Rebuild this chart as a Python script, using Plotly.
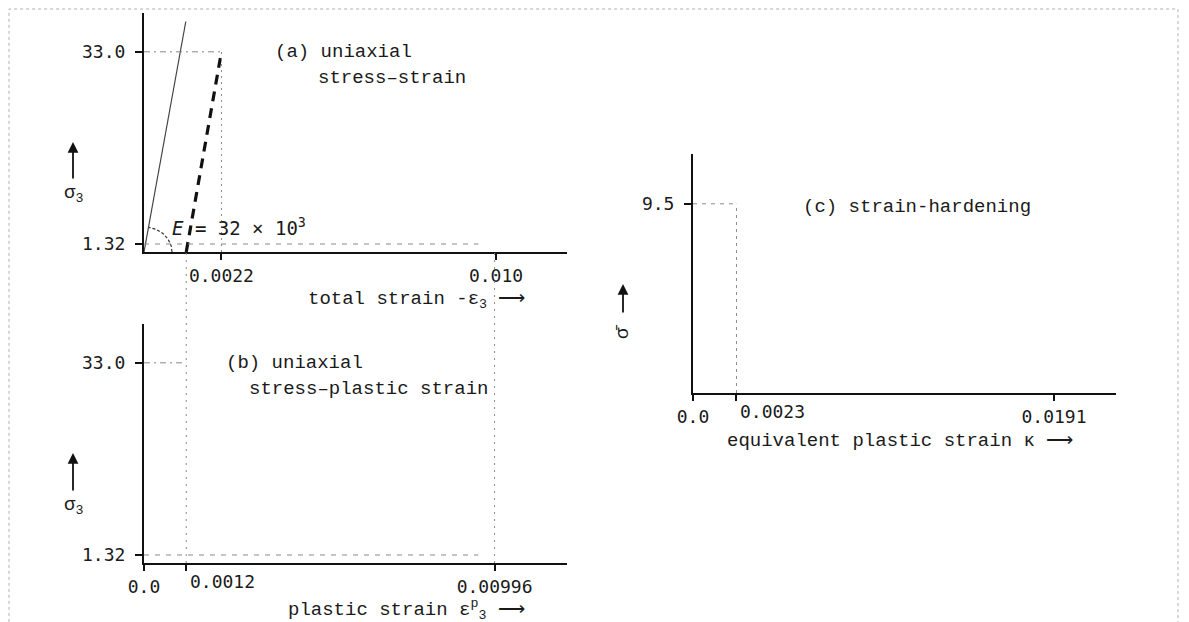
import plotly.graph_objects as go
import numpy as np

# ---------------- data ----------------
E_modulus = 32e3            # E = 32 x 10^3
sigma_yield = 33.0          # uniaxial yield stress
sigma_low = 1.32            # lower stress level
sigma_elastic_top = 38.0    # end of the elastic line
eps_total_yield = 0.0022    # total strain at yield
eps_total_end = 0.010       # total strain end
eps_p_yield = 0.0012        # plastic strain at yield
eps_p_end = 0.00996         # plastic strain end
kappa_yield = 0.0023        # equivalent plastic strain
kappa_end = 0.0191
sigma_bar_yield = 9.5

a_xtick_vals = [eps_total_yield, eps_total_end]
a_xtick_text = ["0.0022", "0.010"]
a_ytick_vals = [sigma_low, sigma_yield]
a_ytick_text = ["1.32", "33.0"]
b_xtick_vals = [0.0, eps_p_yield, eps_p_end]
b_xtick_text = ["0.0", "", "0.00996"]
b_ytick_vals = [sigma_low, sigma_yield]
b_ytick_text = ["1.32", "33.0"]
c_xtick_vals = [0.0, kappa_yield, kappa_end]
c_xtick_text = ["0.0", "", "0.0191"]
c_ytick_vals = [sigma_bar_yield]
c_ytick_text = ["9.5"]

# ---------------- layout geometry ----------------
W, H = 1189, 622
OFF = 8  # page body margin in the browser


def px(x, y):
    return (x - OFF) / W, 1 - (y - OFF) / H


# panel boxes in screen pixels: (left, right, top, bottom)
A_BOX = (144, 567, 13, 252)
B_BOX = (144, 567, 324, 563)
C_BOX = (693, 1116, 154, 393)
A_XMAX, A_YMAX = 0.012017, 39.4
B_XMAX, B_YMAX = 0.012017, 39.4
C_XMAX, C_YMAX = 0.02238, 12.0


def dom(box):
    l, r, t, b = box
    x0, y1 = px(l, t)
    x1, y0 = px(r, b)
    return [x0, x1], [y0, y1]


NUM_FONT = dict(family="DejaVu Sans Mono", size=18, color="#1a1a1a")
TXT_FONT = dict(family="Liberation Mono", size=19, color="#1a1a1a")
GRAY = "#8a8a8a"

fig = go.Figure()

# ---- panel (a) ----
fig.add_trace(go.Scatter(x=[0, sigma_elastic_top / E_modulus], y=[0, sigma_elastic_top],
                         mode="lines", line=dict(color="#444", width=1.2),
                         xaxis="x", yaxis="y", showlegend=False))
fig.add_trace(go.Scatter(x=[eps_p_yield, eps_total_yield], y=[0, sigma_yield],
                         mode="lines", line=dict(color="#111", width=3.2, dash="10px,7px"),
                         xaxis="x", yaxis="y", showlegend=False))
fig.add_trace(go.Scatter(x=[0, eps_total_yield], y=[sigma_yield, sigma_yield],
                         mode="lines", line=dict(color=GRAY, width=1, dash="6px,4px,2px,4px"),
                         xaxis="x", yaxis="y", showlegend=False))
fig.add_trace(go.Scatter(x=[eps_total_yield, eps_total_yield], y=[0, sigma_yield],
                         mode="lines", line=dict(color=GRAY, width=1, dash="2px,4px"),
                         xaxis="x", yaxis="y", showlegend=False))
fig.add_trace(go.Scatter(x=[0, 0.0095], y=[sigma_low, sigma_low],
                         mode="lines", line=dict(color=GRAY, width=1, dash="5px,6px"),
                         xaxis="x", yaxis="y", showlegend=False))
# angle arc at the origin (radius in pixels)
a_xs = (A_BOX[1] - A_BOX[0]) / A_XMAX
a_ys = (A_BOX[3] - A_BOX[2]) / A_YMAX
t = np.linspace(0, np.arctan2(sigma_elastic_top * a_ys, sigma_elastic_top / E_modulus * a_xs), 30)
fig.add_trace(go.Scatter(x=28 * np.cos(t) / a_xs, y=25 * np.sin(t) / a_ys,
                         mode="lines", line=dict(color="#333", width=1.2, dash="3px,2px"),
                         xaxis="x", yaxis="y", showlegend=False))

# ---- panel (b) ----
fig.add_trace(go.Scatter(x=[0, eps_p_yield], y=[sigma_yield, sigma_yield],
                         mode="lines", line=dict(color=GRAY, width=1, dash="6px,4px,2px,4px"),
                         xaxis="x2", yaxis="y2", showlegend=False))
fig.add_trace(go.Scatter(x=[0, 0.0095], y=[sigma_low, sigma_low],
                         mode="lines", line=dict(color=GRAY, width=1, dash="5px,6px"),
                         xaxis="x2", yaxis="y2", showlegend=False))

# ---- panel (c) ----
fig.add_trace(go.Scatter(x=[0, kappa_yield], y=[sigma_bar_yield, sigma_bar_yield],
                         mode="lines", line=dict(color=GRAY, width=1, dash="4px,5px"),
                         xaxis="x3", yaxis="y3", showlegend=False))
fig.add_trace(go.Scatter(x=[kappa_yield, kappa_yield], y=[0, sigma_bar_yield],
                         mode="lines", line=dict(color=GRAY, width=1, dash="3px,4px"),
                         xaxis="x3", yaxis="y3", showlegend=False))


def xaxis(box, xmax, vals, text):
    d, _ = dom(box)
    return dict(domain=d, range=[0, xmax], showline=True, linecolor="#111", linewidth=2,
                showgrid=False, zeroline=False, ticks="outside", ticklen=6, tickwidth=1.5,
                tickcolor="#111", tickvals=vals, ticktext=text, tickfont=NUM_FONT,
                automargin=False, fixedrange=True)


def yaxis(box, ymax, vals, text, anchor):
    _, d = dom(box)
    return dict(domain=d, range=[0, ymax], showline=True, linecolor="#111", linewidth=2,
                showgrid=False, zeroline=False, ticks="outside", ticklen=7, tickwidth=1.5,
                tickcolor="#111", tickvals=vals, ticktext=text, tickfont=NUM_FONT,
                ticklabelstandoff=6, anchor=anchor, automargin=False, fixedrange=True)


annotations = []


def txt(x, y, s, xanchor="left", font=TXT_FONT, angle=0):
    X, Y = px(x, y)
    annotations.append(dict(x=X, y=Y, xref="paper", yref="paper", text=s, showarrow=False,
                            xanchor=xanchor, yanchor="middle", font=font, textangle=angle))


def up_arrow(x, y_tip, length):
    X, Y = px(x, y_tip)
    annotations.append(dict(x=X, y=Y, xref="paper", yref="paper", text="", showarrow=True,
                            ax=0, ay=length, axref="pixel", ayref="pixel", arrowhead=2,
                            arrowsize=1.2, arrowwidth=1.8, arrowcolor="#111"))


# panel texts
txt(273, 52, "(a) uniaxial")
txt(316, 78, "stress\u2013strain")
txt(170, 227, "<i>E</i> = 32 \u00d7 10<sup>3</sup>",
    font=dict(family="DejaVu Sans Mono", size=19, color="#1a1a1a"))
txt(527, 300, "total strain -\u03b5<sub>3</sub> \u27f6", xanchor="right")
up_arrow(73, 142, 38)
txt(73, 194, "\u03c3<sub>3</sub>", xanchor="center")

txt(224, 363, "(b) uniaxial")
txt(247, 389, "stress\u2013plastic strain")
txt(188, 581, "0.0012", font=NUM_FONT)
txt(527, 609, "plastic strain \u03b5<sup>p</sup><sub>3</sub> \u27f6", xanchor="right")
up_arrow(73, 453, 39)
txt(73, 506, "\u03c3<sub>3</sub>", xanchor="center")

txt(801, 207, "(c) strain-hardening")
txt(738, 411, "0.0023", font=NUM_FONT)
txt(1075, 441, "equivalent plastic strain \u03ba \u27f6", xanchor="right")
up_arrow(623, 284, 30)
txt(623, 332, "\u03c3\u0304", xanchor="center", angle=-90)

# vertical dotted lines linking panels (a) and (b)
shapes = []
_, b_dom = dom(B_BOX)
_, a_dom = dom(A_BOX)
for xv in [eps_p_yield, eps_p_end]:
    shapes.append(dict(type="line", xref="x2", yref="paper", x0=xv, x1=xv,
                       y0=b_dom[0], y1=a_dom[0], line=dict(color=GRAY, width=1, dash="2px,5px")))
# page frame
fx0, fy0 = px(9, 9)
fx1, _ = px(1178, 9)
shapes.append(dict(type="rect", xref="paper", yref="paper", x0=fx0, x1=fx1, y0=-0.05, y1=fy0,
                   line=dict(color="#b0b0b0", width=1, dash="dot")))

fig.update_layout(
    template="none",
    width=W, height=H, margin=dict(l=0, r=0, t=0, b=0, pad=0), autosize=False,
    paper_bgcolor="white", plot_bgcolor="white",
    xaxis=dict(**xaxis(A_BOX, A_XMAX, a_xtick_vals, a_xtick_text), anchor="y"),
    yaxis=yaxis(A_BOX, A_YMAX, a_ytick_vals, a_ytick_text, "x"),
    xaxis2=dict(**xaxis(B_BOX, B_XMAX, b_xtick_vals, b_xtick_text), anchor="y2"),
    yaxis2=yaxis(B_BOX, B_YMAX, b_ytick_vals, b_ytick_text, "x2"),
    xaxis3=dict(**xaxis(C_BOX, C_XMAX, c_xtick_vals, c_xtick_text), anchor="y3"),
    yaxis3=yaxis(C_BOX, C_YMAX, c_ytick_vals, c_ytick_text, "x3"),
    annotations=annotations, shapes=shapes, showlegend=False,
)

fig.write_html("out.html")
